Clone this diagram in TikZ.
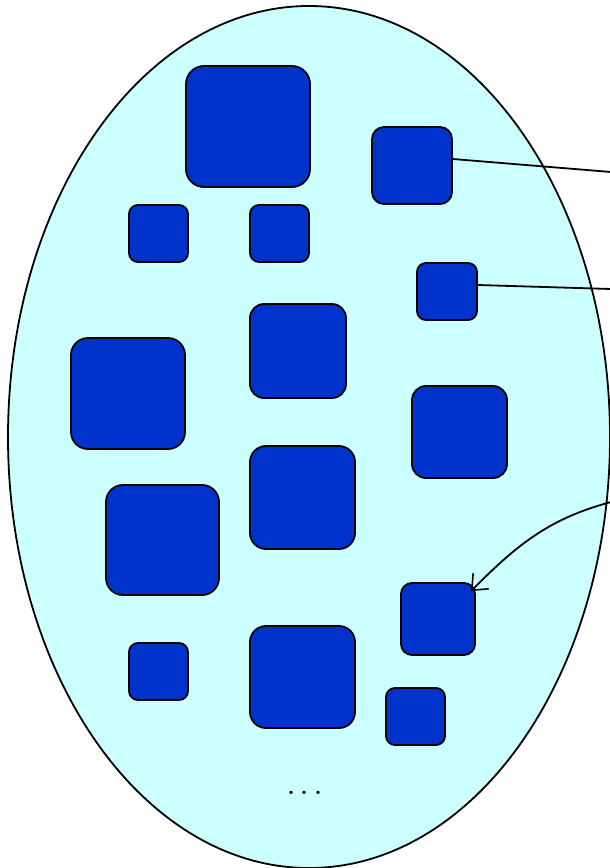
\documentclass[tikz,border=0pt]{standalone}
\usetikzlibrary{arrows.meta,shapes.geometric,calc}
\definecolor{cellfill}{HTML}{CCFFFF}
\definecolor{boxfill}{HTML}{0033CC}
\begin{document}
\begin{tikzpicture}[x=1pt,y=-1pt,
  blob/.style={draw=black, line width=1.8pt, fill=boxfill, rounded corners=#1, inner sep=0pt},
  link/.style={draw=black, line width=1.8pt},
  tip/.style={-{Straight Barb[length=13pt,width=22pt,line width=1.6pt]}}]
\useasboundingbox (0,0) rectangle (610,868);
\node[draw=black, line width=1.8pt, fill=cellfill, ellipse, minimum width=602pt, minimum height=862pt, inner sep=0pt] (cell) at (309,437) {};
% boxes: corner1, corner2
\newcommand{\blobbox}[6]{\node[blob=#6, minimum width=#4-#2, minimum height=#5-#3] (#1) at ({(#2+#4)/2},{(#3+#5)/2}) {};}
\blobbox{b1}{186}{66}{310}{187}{18pt}
\blobbox{b2}{372}{127}{452}{204}{12pt}
\blobbox{b3}{129}{205}{188}{262}{9pt}
\blobbox{b4}{250}{205}{309}{262}{9pt}
\blobbox{b5}{417}{263}{477}{320}{9pt}
\blobbox{b6}{250}{304}{346}{398}{14pt}
\blobbox{b7}{71}{338}{185}{449}{17pt}
\blobbox{b8}{412}{386}{507}{478}{14pt}
\blobbox{b9}{250}{446}{355}{549}{16pt}
\blobbox{b10}{106}{485}{219}{595}{17pt}
\blobbox{b11}{401}{583}{475}{655}{11pt}
\blobbox{b12}{129}{643}{188}{700}{9pt}
\blobbox{b13}{250}{626}{355}{728}{16pt}
\blobbox{b14}{386}{688}{445}{745}{9pt}
\node[anchor=base, inner sep=0pt, font=\fontsize{40}{40}\selectfont] (dots) at (305,794) {.\kern3.5pt.\kern3.5pt.};
\coordinate (e1) at (611,172);
\coordinate (e2) at (611,289);
\coordinate (e3) at (611,502);
\draw[link] (b2.east |- 0,159) -- (e1);
\draw[link] (b5.east |- 0,285) -- (e2);
\draw[link, tip] (e3) to[out=195, in=45] ($(b11.north east)+(-5,9)$);
\end{tikzpicture}
\end{document}
